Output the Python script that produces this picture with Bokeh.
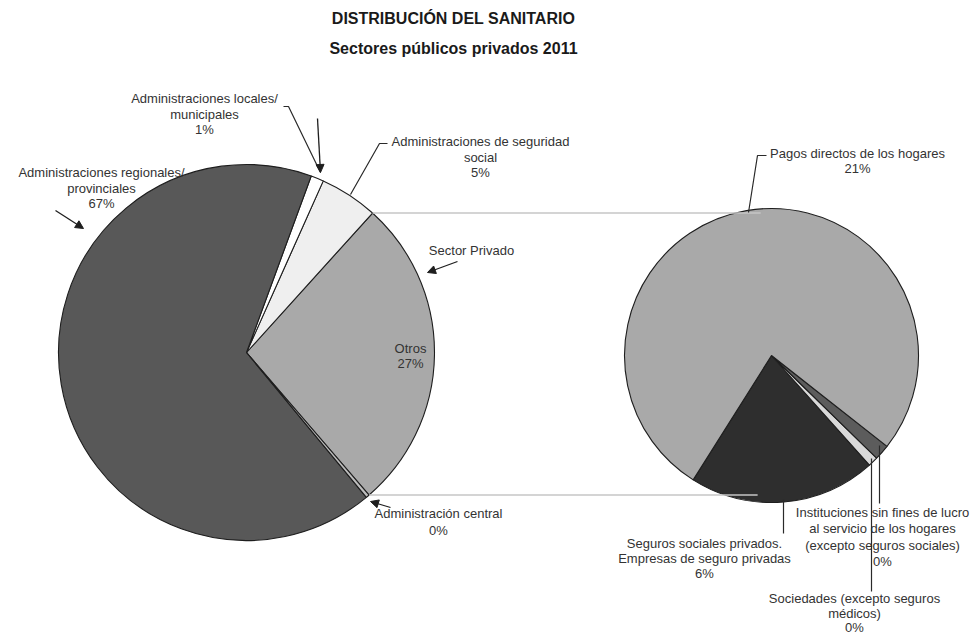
import math
from bokeh.plotting import figure
from bokeh.models import Range1d, Arrow, NormalHead
from bokeh.core.properties import value
from bokeh.embed import file_html
from bokeh.resources import INLINE

# ---------------- data ----------------
title_lines = ["DISTRIBUCIÓN DEL SANITARIO", "Sectores públicos privados 2011"]

left_names = ["Sector Privado", "Administraciones de seguridad social",
              "Administraciones locales/ municipales",
              "Administraciones regionales/ provinciales", "Administración central"]
left_values = [27.0, 5.0, 1.1, 66.6, 0.3]
left_colors = ["#a9a9a9", "#efefef", "#ffffff", "#585858", "#bdbdbd"]

right_names = ["Seguros sociales privados. Empresas de seguro privadas",
               "Sociedades (excepto seguros médicos)",
               "Instituciones sin fines de lucro al servicio de los hogares (excepto seguros sociales)",
               "Pagos directos de los hogares"]
right_values = [5.55, 0.29, 0.46, 20.7]
right_colors = ["#2e2e2e", "#d9d9d9", "#5c5c5c", "#a9a9a9"]

pct = lambda v: f"{round(v)}%"

# ---------------- layout ----------------
W, H = 973, 638
def Y(py):
    return H - py

p = figure(width=W, height=H, x_range=Range1d(0, W), y_range=Range1d(0, H),
           output_backend="svg", toolbar_location=None, min_border=0)
p.axis.visible = False
p.grid.visible = False
p.outline_line_color = None
p.background_fill_color = "white"

FONT = value("Liberation Sans")
TXT = "#333333"

def draw_pie(cx, cy, r, values, colors, start_deg):
    total = sum(values)
    a = math.radians(start_deg)
    starts, ends = [], []
    for v in values:
        starts.append(a)
        a += v / total * 2 * math.pi
        ends.append(a)
    p.wedge(x=[cx] * len(values), y=[cy] * len(values), radius=r,
            start_angle=starts, end_angle=ends, direction="anticlock",
            fill_color=colors, line_color="#1e1e1e", line_width=1.1)
    return starts, ends

# left pie
LCX, LCY, LR = 246, Y(352), 188
ls, le = draw_pie(LCX, LCY, LR, left_values, left_colors, -49.3)
# right pie
RCX, RCY, RR = 771, Y(355), 147
rs, re_ = draw_pie(RCX, RCY, RR, right_values, right_colors, -122.2)

# connector lines from the private slice to the second pie
for ang in (le[0], ls[0]):
    x0 = LCX + LR * math.cos(ang)
    y0 = LCY + LR * math.sin(ang)
    dy = y0 - RCY
    dx = math.sqrt(max(RR ** 2 - dy ** 2, 0))
    x1 = RCX - dx * 0.3
    p.segment(x0=[x0], y0=[y0], x1=[x1], y1=[y0], line_color="#c6c6c6", line_width=1.5)

def label(lines, x, py, size="13px", spacing=15.5, bold=False, color=TXT, font=FONT, align="center"):
    for i, t in enumerate(lines):
        p.text(x=[x], y=[Y(py + i * spacing)], text=[t], text_font=font,
               text_font_size=size, text_align=align, text_baseline="middle",
               text_color=color, text_font_style="bold" if bold else "normal")

def leader(pts, color="#2a2a2a", w=1.2):
    p.line(x=[q[0] for q in pts], y=[Y(q[1]) for q in pts], line_color=color, line_width=w)

def arrow(x0, py0, x1, py1):
    p.add_layout(Arrow(end=NormalHead(size=8, fill_color="#1e1e1e", line_color="#1e1e1e"),
                       x_start=x0, y_start=Y(py0), x_end=x1, y_end=Y(py1),
                       line_color="#1e1e1e", line_width=1.3))

# title
label(title_lines, 453, 18, size="16px", spacing=30, bold=True, color="#1a1a1a")

# left pie labels
label(["Administraciones locales/", "municipales", pct(left_values[2])], 204, 98)
leader([(283, 106), (288, 106), (320, 172)])
arrow(317, 118, 320, 172)

label(["Administraciones regionales/", "provinciales", pct(left_values[3])], 101, 172)
arrow(55, 210, 83, 228)

label(["Administraciones de seguridad", "social", pct(left_values[1])], 480, 141)
leader([(387, 143), (379, 143), (350, 194)])

label([left_names[0]], 471, 250)
arrow(457, 261, 427, 272)

label(["Otros", pct(left_values[0])], 410, 348, spacing=15)

label([left_names[4], pct(left_values[4])], 438, 513, spacing=17)
arrow(390, 507, 370, 501)

# right pie labels
label([right_names[3], pct(right_values[3])], 857, 153, spacing=15)
leader([(766, 155), (757, 155), (748, 212)])

label(["Seguros sociales privados.", "Empresas de seguro privadas", pct(right_values[0])], 704, 543, spacing=15)
leader([(783, 499), (783, 533)])

label(["Instituciones sin fines de lucro", "al servicio de los hogares",
       "(excepto seguros sociales)", pct(right_values[2])], 882, 512, spacing=16.3)
leader([(879, 445), (879, 503)])

label(["Sociedades (excepto seguros", "médicos)", pct(right_values[1])], 854, 598, spacing=14.5)
leader([(871, 458), (871, 591)])

open("out.html", "w").write(file_html(p, INLINE))
